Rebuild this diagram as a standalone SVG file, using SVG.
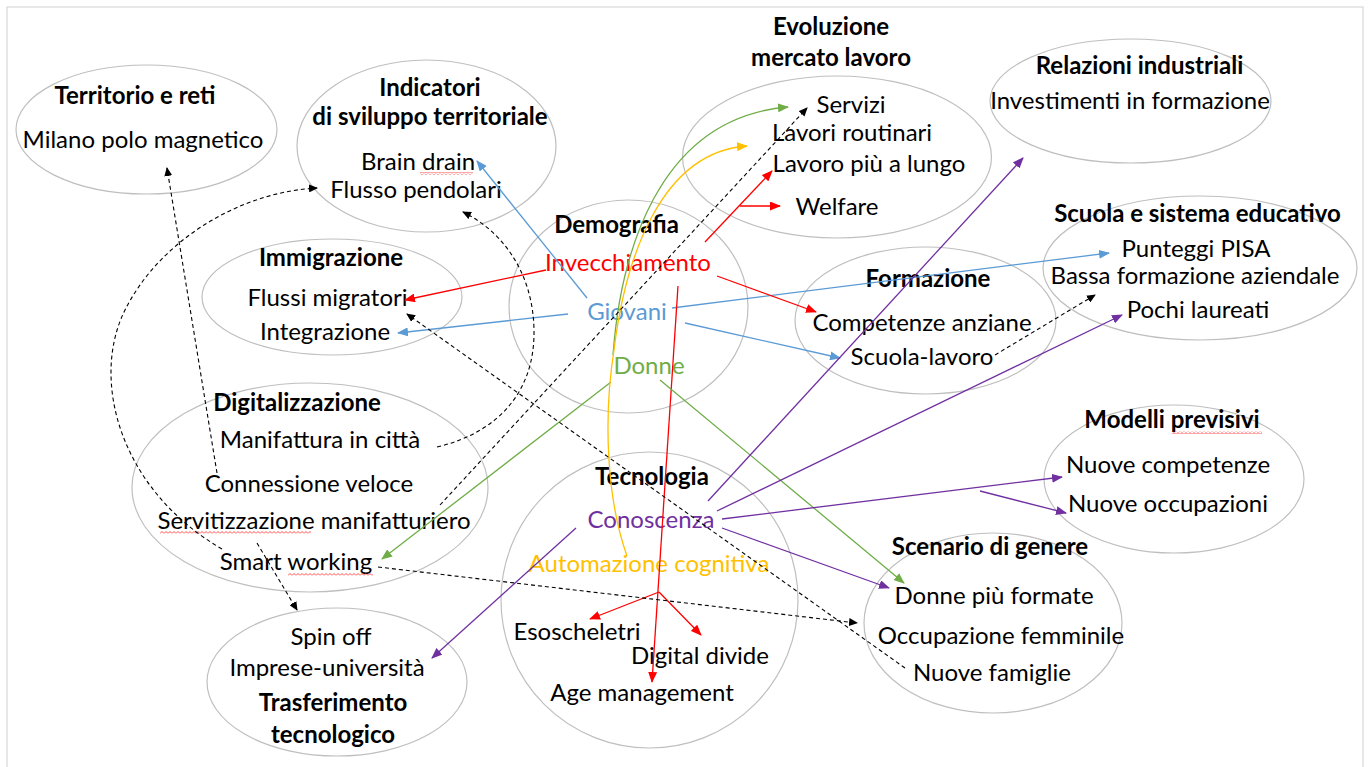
<svg xmlns="http://www.w3.org/2000/svg" width="1370" height="767" viewBox="0 0 1370 767">
<defs>
<style>
.ov{fill:none;stroke:#BFBFBF;stroke-width:1.2}
text{font-family:Lato,"Open Sans","Liberation Sans",sans-serif;font-size:24px;fill:#000;text-anchor:middle}
.t{font-weight:bold}
.red{fill:#FF0000}.blu{fill:#5B9BD5}.grn{fill:#70AD47}.org{fill:#FFC000}.pur{fill:#7030A0}
.c{fill:none;stroke-width:1.3}
.cr{stroke:#FF0000}.cb{stroke:#5B9BD5}.cg{stroke:#70AD47}.co{stroke:#FFC000}.cp{stroke:#7030A0}
.ck{stroke:#000;stroke-width:1.1;stroke-dasharray:4,3}
</style>
<marker id="mr" markerUnits="userSpaceOnUse" markerWidth="11" markerHeight="9" refX="10" refY="4.5" orient="auto"><path d="M0,0 L11,4.5 L0,9 z" fill="#FF0000"/></marker>
<marker id="mb" markerUnits="userSpaceOnUse" markerWidth="11" markerHeight="9" refX="10" refY="4.5" orient="auto"><path d="M0,0 L11,4.5 L0,9 z" fill="#5B9BD5"/></marker>
<marker id="mg" markerUnits="userSpaceOnUse" markerWidth="11" markerHeight="9" refX="10" refY="4.5" orient="auto"><path d="M0,0 L11,4.5 L0,9 z" fill="#70AD47"/></marker>
<marker id="mo" markerUnits="userSpaceOnUse" markerWidth="11" markerHeight="9" refX="10" refY="4.5" orient="auto"><path d="M0,0 L11,4.5 L0,9 z" fill="#FFC000"/></marker>
<marker id="mp" markerUnits="userSpaceOnUse" markerWidth="11" markerHeight="9" refX="10" refY="4.5" orient="auto"><path d="M0,0 L11,4.5 L0,9 z" fill="#7030A0"/></marker>
<marker id="mk" markerUnits="userSpaceOnUse" markerWidth="9" markerHeight="8" refX="8" refY="4" orient="auto"><path d="M0,0 L9,4 L0,8 z" fill="#000"/></marker>
<pattern id="squig" width="4" height="3" patternUnits="userSpaceOnUse"><path d="M0,2.5 L2,0.5 L4,2.5" stroke="#FF0000" fill="none" stroke-width="0.7"/></pattern>
</defs>
<rect x="0" y="0" width="1370" height="767" fill="#fff"/>
<rect x="7" y="7" width="1356" height="780" fill="none" stroke="#D0D0D0" stroke-width="1"/>

<g id="n-territorio">
<ellipse class="ov" cx="146.5" cy="129.5" rx="130.5" ry="64.5"/>
<text class="t" x="135" y="104">Territorio e reti</text>
<text x="143" y="148">Milano polo magnetico</text>
</g>
<g id="n-indicatori">
<ellipse class="ov" cx="426.5" cy="146" rx="129.5" ry="86"/>
<text class="t" x="430" y="96">Indicatori</text>
<text class="t" x="430" y="125">di sviluppo territoriale</text>
<text x="418" y="170">Brain drain</text>
<text x="416" y="198">Flusso pendolari</text>
<rect x="420" y="172" width="53" height="3" fill="url(#squig)"/>
</g>
<g id="n-evoluzione">
<ellipse class="ov" cx="837" cy="157" rx="154.5" ry="81"/>
<text class="t" x="831" y="35">Evoluzione</text>
<text class="t" x="831" y="66">mercato lavoro</text>
<text x="851" y="113">Servizi</text>
<text x="852" y="141">Lavori routinari</text>
<text x="869" y="172">Lavoro più a lungo</text>
<text x="837" y="215">Welfare</text>
</g>
<g id="n-relazioni">
<ellipse class="ov" cx="1130.5" cy="101" rx="140.5" ry="62"/>
<text class="t" x="1139.5" y="74">Relazioni industriali</text>
<text x="1130" y="109">Investimenti in formazione</text>
</g>
<g id="n-scuola">
<ellipse class="ov" cx="1200" cy="268" rx="157" ry="72"/>
<text class="t" x="1197.5" y="222">Scuola e sistema educativo</text>
<text x="1196" y="257">Punteggi PISA</text>
<text x="1195" y="284">Bassa formazione aziendale</text>
<text x="1198" y="318">Pochi laureati</text>
</g>
<g id="n-immigrazione">
<ellipse class="ov" cx="332" cy="297" rx="130" ry="58"/>
<text class="t" x="331" y="266">Immigrazione</text>
<text x="327.5" y="306">Flussi migratori</text>
<text x="325" y="340">Integrazione</text>
</g>
<g id="n-demografia">
<ellipse class="ov" cx="628.5" cy="306.5" rx="119.5" ry="106.5"/>
<text class="t" x="616.5" y="233">Demografia</text>
<text class="red" x="628" y="271">Invecchiamento</text>
<text class="blu" x="627" y="320">Giovani</text>
<text class="grn" x="649" y="374">Donne</text>
</g>
<g id="n-formazione">
<ellipse class="ov" cx="925.5" cy="320.5" rx="130.5" ry="73.5"/>
<text class="t" x="928" y="287">Formazione</text>
<text x="922" y="331">Competenze anziane</text>
<text x="922" y="365">Scuola-lavoro</text>
</g>
<g id="n-modelli">
<ellipse class="ov" cx="1174" cy="479" rx="130" ry="74"/>
<text class="t" x="1172" y="428">Modelli previsivi</text>
<rect x="1172" y="431" width="90" height="3" fill="url(#squig)"/>
<text x="1168" y="473">Nuove competenze</text>
<text x="1168" y="512">Nuove occupazioni</text>
</g>
<g id="n-digitalizzazione">
<ellipse class="ov" cx="310" cy="487.5" rx="178" ry="104.5"/>
<text class="t" x="297" y="411">Digitalizzazione</text>
<text x="320" y="448">Manifattura in città</text>
<text x="309" y="492">Connessione veloce</text>
<text x="314" y="529">Servitizzazione manifatturiero</text>
<text x="296" y="570">Smart working</text>
<rect x="160" y="531" width="151" height="3" fill="url(#squig)"/>
<rect x="288" y="573" width="85" height="3" fill="url(#squig)"/>
</g>
<g id="n-tecnologia">
<ellipse class="ov" cx="649.5" cy="600" rx="148.5" ry="148"/>
<text class="t" x="652" y="485">Tecnologia</text>
<text class="pur" x="651" y="528">Conoscenza</text>
<text class="org" x="649" y="572">Automazione cognitiva</text>
<text x="577" y="640">Esoscheletri</text>
<text x="700" y="664">Digital divide</text>
<text x="642" y="701">Age management</text>
</g>
<g id="n-trasferimento">
<ellipse class="ov" cx="337" cy="682" rx="130" ry="74"/>
<text x="331" y="645">Spin off</text>
<text x="327" y="676">Imprese-università</text>
<text class="t" x="333" y="711">Trasferimento</text>
<text class="t" x="333" y="743">tecnologico</text>
</g>
<g id="n-scenario">
<ellipse class="ov" cx="993" cy="623" rx="129" ry="90"/>
<text class="t" x="990" y="555">Scenario di genere</text>
<text x="994" y="604">Donne più formate</text>
<text x="1001" y="644">Occupazione femminile</text>
<text x="992" y="681">Nuove famiglie</text>
</g>

<g id="connectors">
<!-- blue -->
<path class="c cb" d="M587,298 L477,161" marker-end="url(#mb)"/>
<path class="c cb" d="M568,314 L398,333" marker-end="url(#mb)"/>
<path class="c cb" d="M672,308 L1109,253" marker-end="url(#mb)"/>
<path class="c cb" d="M685,323 L840,358" marker-end="url(#mb)"/>
<!-- red -->
<path class="c cr" d="M546,270 L405,300" marker-end="url(#mr)"/>
<path class="c cr" d="M705,242 L772,171" marker-end="url(#mr)"/>
<path class="c cr" d="M740,206 L780,206" marker-end="url(#mr)"/>
<path class="c cr" d="M717,276 L816,312" marker-end="url(#mr)"/>
<path class="c cr" d="M678,286 L652,682" marker-end="url(#mr)"/>
<path class="c cr" d="M659,592 L590,619" marker-end="url(#mr)"/>
<path class="c cr" d="M659,592 L701,635" marker-end="url(#mr)"/>
<!-- green -->
<path class="c cg" d="M611,382 L382,559" marker-end="url(#mg)"/>
<path class="c cg" d="M660,380 L904,583" marker-end="url(#mg)"/>
<path class="c cg" d="M613,355 C620,260 655,118 788,107" marker-end="url(#mg)"/>
<!-- orange -->
<path class="c co" d="M627,556 C607,500 603,420 614,350 C625,260 660,152 747,146" marker-end="url(#mo)"/>
<!-- purple -->
<path class="c cp" d="M708,501 L1023,158" marker-end="url(#mp)"/>
<path class="c cp" d="M717,511 L1122,315" marker-end="url(#mp)"/>
<path class="c cp" d="M722,519 L1062,477" marker-end="url(#mp)"/>
<path class="c cp" d="M980,491 L1066,513" marker-end="url(#mp)"/>
<path class="c cp" d="M722,528 L889,588" marker-end="url(#mp)"/>
<path class="c cp" d="M576,528 L432,658" marker-end="url(#mp)"/>
<!-- black dashed -->
<path class="c ck" d="M217,473 L167,168" marker-end="url(#mk)"/>
<path class="c ck" d="M222,549 C120,490 90,380 125,310 C160,240 240,192 317,188" marker-end="url(#mk)"/>
<path class="c ck" d="M437,447 C500,432 535,390 534,330 C533,270 500,230 463,212" marker-end="url(#mk)"/>
<path class="c ck" d="M257,543 L297,610" marker-end="url(#mk)"/>
<path class="c ck" d="M378,567 L857,623" marker-end="url(#mk)"/>
<path class="c ck" d="M905,668 L407,314" marker-end="url(#mk)"/>
<path class="c ck" d="M440,505 L807,108" marker-end="url(#mk)"/>
<path class="c ck" d="M995,355 L1095,295" marker-end="url(#mk)"/>
</g>
</svg>
